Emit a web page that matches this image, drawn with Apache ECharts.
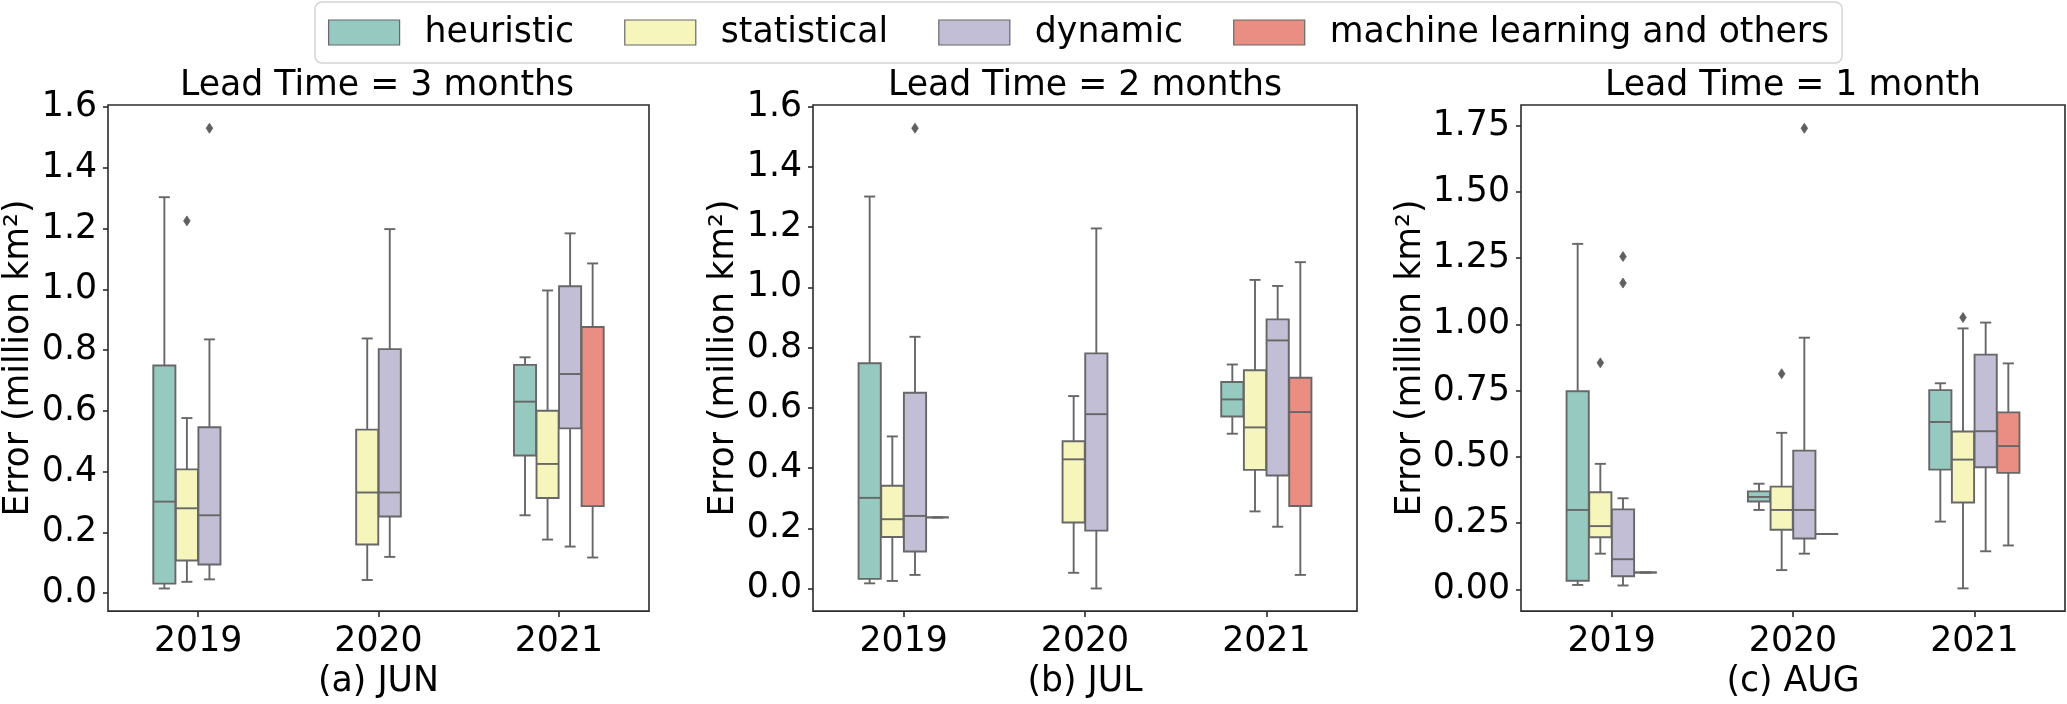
<!DOCTYPE html>
<html>
<head>
<meta charset="utf-8">
<script src="https://cdn.jsdelivr.net/npm/echarts@6/dist/echarts.min.js"></script>
<style>
html, body { margin: 0; padding: 0; background: #fff; }
#chart { width: 2067px; height: 704px; }
</style>
</head>
<body>
<div id="chart"></div>
<script>
// ---------- data ----------
const categories = ['2019', '2020', '2021'];
const methods = ['heuristic', 'statistical', 'dynamic', 'machine learning and others'];

// each box: [min, Q1, median, Q3, max] for 2019, 2020, 2021 (null = no forecasts)
const junHeuristic   = [[0.015, 0.031, 0.301, 0.749, 1.303], null, [0.256, 0.453, 0.630, 0.751, 0.776]];
const junStatistical = [[0.037, 0.107, 0.279, 0.407, 0.576], [0.043, 0.160, 0.331, 0.538, 0.838], [0.176, 0.313, 0.425, 0.600, 0.996]];
const junDynamic     = [[0.045, 0.094, 0.256, 0.546, 0.835], [0.119, 0.252, 0.331, 0.803, 1.198], [0.153, 0.542, 0.721, 1.010, 1.184]];
const junML          = [null, null, [0.117, 0.286, 0.876, 0.876, 1.085]];
// outliers: [method index, year index, value]
const junOutliers    = [[1, 0, 1.225], [2, 0, 1.530]];

const julHeuristic   = [[0.017, 0.032, 0.301, 0.748, 1.302], null, [0.514, 0.571, 0.628, 0.686, 0.744]];
const julStatistical = [[0.025, 0.171, 0.230, 0.341, 0.505], [0.052, 0.219, 0.429, 0.489, 0.639], [0.256, 0.394, 0.535, 0.725, 1.025]];
const julDynamic     = [[0.045, 0.123, 0.241, 0.650, 0.836], [0.000, 0.192, 0.579, 0.781, 1.196], [0.205, 0.375, 0.824, 0.894, 1.005]];
const julML          = [[0.236, 0.236, 0.236, 0.236, 0.236], null, [0.045, 0.274, 0.586, 0.700, 1.084]];
const julOutliers    = [[2, 0, 1.529]];

const augHeuristic   = [[0.017, 0.033, 0.300, 0.748, 1.304], [0.300, 0.332, 0.349, 0.370, 0.399], [0.256, 0.452, 0.632, 0.752, 0.778]];
const augStatistical = [[0.135, 0.197, 0.239, 0.367, 0.474], [0.073, 0.225, 0.300, 0.388, 0.591], [0.004, 0.328, 0.490, 0.596, 0.985]];
const augDynamic     = [[0.015, 0.050, 0.114, 0.302, 0.344], [0.135, 0.192, 0.300, 0.524, 0.950], [0.144, 0.461, 0.597, 0.886, 1.007]];
const augML          = [[0.064, 0.064, 0.064, 0.064, 0.064], [0.209, 0.209, 0.209, 0.209, 0.209], [0.166, 0.440, 0.541, 0.668, 0.853]];
const augOutliers    = [[1, 0, 0.855], [2, 0, 1.256], [2, 0, 1.156], [1, 1, 0.814], [2, 1, 1.740], [1, 2, 1.026]];

// tick labels
const junTicks = [0, 0.2, 0.4, 0.6, 0.8, 1.0, 1.2, 1.4, 1.6];
const julTicks = [0, 0.2, 0.4, 0.6, 0.8, 1.0, 1.2, 1.4, 1.6];
const augTicks = [0, 0.25, 0.5, 0.75, 1.0, 1.25, 1.5, 1.75];

const panelTitles = ['Lead Time = 3 months', 'Lead Time = 2 months', 'Lead Time = 1 month'];
const panelNames = ['(a) JUN', '(b) JUL', '(c) AUG'];
const yName = 'Error (million km\u00B2)';

// ---------- styles ----------
const FONT = 'DejaVu Sans';
const FS = 34.7;
const COLORS = ['#96cac1', '#f5f5bc', '#c1bed6', '#ea8e83'];
const LINE = '#676767';
const AXIS = '#2b2b2b';
const LW = 1.9;
const OFFSETS = [-0.1875, -0.0625, 0.0625, 0.1875];
const BOX_FRAC = 0.1225;
const MAX_OUT = 2;

const panels = [
  { boxes: [junHeuristic, junStatistical, junDynamic, junML], outliers: junOutliers, ticks: junTicks, digits: 1,
    min: -0.0594, max: 1.6065, left: 105, nameGap: 72 },
  { boxes: [julHeuristic, julStatistical, julDynamic, julML], outliers: julOutliers, ticks: julTicks, digits: 1,
    min: -0.0752, max: 1.606, left: 813, nameGap: 72 },
  { boxes: [augHeuristic, augStatistical, augDynamic, augML], outliers: augOutliers, ticks: augTicks, digits: 2,
    min: -0.0817, max: 1.828, left: 1521, nameGap: 93 }
];
const GRID_TOP = 105, GRID_W = 544, GRID_H = 519;

function makeBoxRenderer(h) {
  return function (params, api) {
    const cat = api.value(0);
    const band = api.size([1, 0])[0];
    const cx = api.coord([cat, 0])[0] + OFFSETS[h] * band;
    const w = BOX_FRAC * band;
    const yMin = api.coord([cat, api.value(1)])[1];
    const yQ1 = api.coord([cat, api.value(2)])[1];
    const yMed = api.coord([cat, api.value(3)])[1];
    const yQ3 = api.coord([cat, api.value(4)])[1];
    const yMax = api.coord([cat, api.value(5)])[1];
    const ls = { stroke: LINE, lineWidth: LW };
    const children = [
      { type: 'line', shape: { x1: cx, y1: yQ3, x2: cx, y2: yMax }, style: ls },
      { type: 'line', shape: { x1: cx, y1: yQ1, x2: cx, y2: yMin }, style: ls },
      { type: 'line', shape: { x1: cx - w / 4, y1: yMax, x2: cx + w / 4, y2: yMax }, style: ls },
      { type: 'line', shape: { x1: cx - w / 4, y1: yMin, x2: cx + w / 4, y2: yMin }, style: ls },
      { type: 'rect', shape: { x: cx - w / 2, y: yQ3, width: w, height: yQ1 - yQ3 },
        style: { fill: COLORS[h], stroke: LINE, lineWidth: LW } },
      { type: 'line', shape: { x1: cx - w / 2, y1: yMed, x2: cx + w / 2, y2: yMed }, style: ls }
    ];
    for (let k = 0; k < MAX_OUT; k++) {
      const v = api.value(6 + k);
      if (v == null || isNaN(v)) continue;
      const cy = api.coord([cat, v])[1];
      children.push({
        type: 'polygon',
        shape: { points: [[cx, cy - 5], [cx + 3.3, cy], [cx, cy + 5], [cx - 3.3, cy]] },
        style: { fill: '#5f5f5f', stroke: '#5f5f5f', lineWidth: 0.8 }
      });
    }
    return { type: 'group', children: children };
  };
}

const grid = [], xAxis = [], yAxis = [], series = [], graphic = [];
panels.forEach((p, i) => {
  grid.push({ left: p.left, top: GRID_TOP, width: GRID_W, height: GRID_H, show: true,
    borderColor: AXIS, borderWidth: 1.6, backgroundColor: 'transparent', containLabel: false });
  xAxis.push({
    type: 'category', gridIndex: i, data: categories, boundaryGap: true,
    axisLine: { show: false, onZero: false },
    axisTick: { show: true, alignWithLabel: true, length: 6, lineStyle: { color: AXIS, width: 1.6 } },
    axisLabel: { fontFamily: FONT, fontSize: FS, color: '#000', margin: 13 },
    name: panelNames[i], nameLocation: 'middle', nameGap: 49,
    nameTextStyle: { fontFamily: FONT, fontSize: FS, color: '#000' },
    splitLine: { show: false }
  });
  yAxis.push({
    type: 'value', gridIndex: i, min: p.min, max: p.max,
    axisLine: { show: false, onZero: false },
    splitLine: { show: false },
    axisTick: { show: true, length: 5, customValues: p.ticks, lineStyle: { color: AXIS, width: 1.6 } },
    axisLabel: { show: true, customValues: p.ticks, fontFamily: FONT, fontSize: FS, color: '#000', margin: 11,
      formatter: (v) => Number(v).toFixed(p.digits) },
    name: yName, nameLocation: 'middle', nameGap: p.nameGap, nameRotate: 90,
    nameTextStyle: { fontFamily: FONT, fontSize: FS, color: '#000' }
  });
  p.boxes.forEach((arr, h) => {
    const data = [];
    arr.forEach((b, c) => {
      if (!b) return;
      const outs = p.outliers.filter(o => o[0] === h && o[1] === c).map(o => o[2]);
      while (outs.length < MAX_OUT) outs.push(null);
      data.push([c].concat(b, outs));
    });
    series.push({
      type: 'custom', name: methods[h], xAxisIndex: i, yAxisIndex: i,
      renderItem: makeBoxRenderer(h), data: data,
      dimensions: ['year', 'min', 'Q1', 'median', 'Q3', 'max', 'out1', 'out2'],
      encode: { x: 0, y: [1, 2, 3, 4, 5] },
      itemStyle: { color: COLORS[h] }, silent: true, animation: false
    });
  });
  graphic.push({
    type: 'text', x: p.left + GRID_W / 2, y: 86,
    style: { text: panelTitles[i], fontFamily: FONT, fontSize: FS, fill: '#000', align: 'center', verticalAlign: 'middle' }
  });
});

const chart = echarts.init(document.getElementById('chart'), null, { renderer: 'canvas' });
chart.setOption({
  animation: false,
  backgroundColor: '#fff',
  grid, xAxis, yAxis, series, graphic,
  legend: {
    show: true, left: 315, top: 2, orient: 'horizontal',
    data: methods.map((m, h) => ({ name: m, icon: 'rect',
      itemStyle: { color: COLORS[h], borderColor: LINE, borderWidth: 1.2 } })),
    itemWidth: 71, itemHeight: 25, itemGap: 50,
    padding: [13, 13, 13, 13],
    borderColor: '#d4d4d4', borderWidth: 1.5, borderRadius: 7,
    textStyle: { fontFamily: FONT, fontSize: FS, color: '#000', padding: [0, 0, 0, 20] },
    selectedMode: false
  }
});
</script>
</body>
</html>
